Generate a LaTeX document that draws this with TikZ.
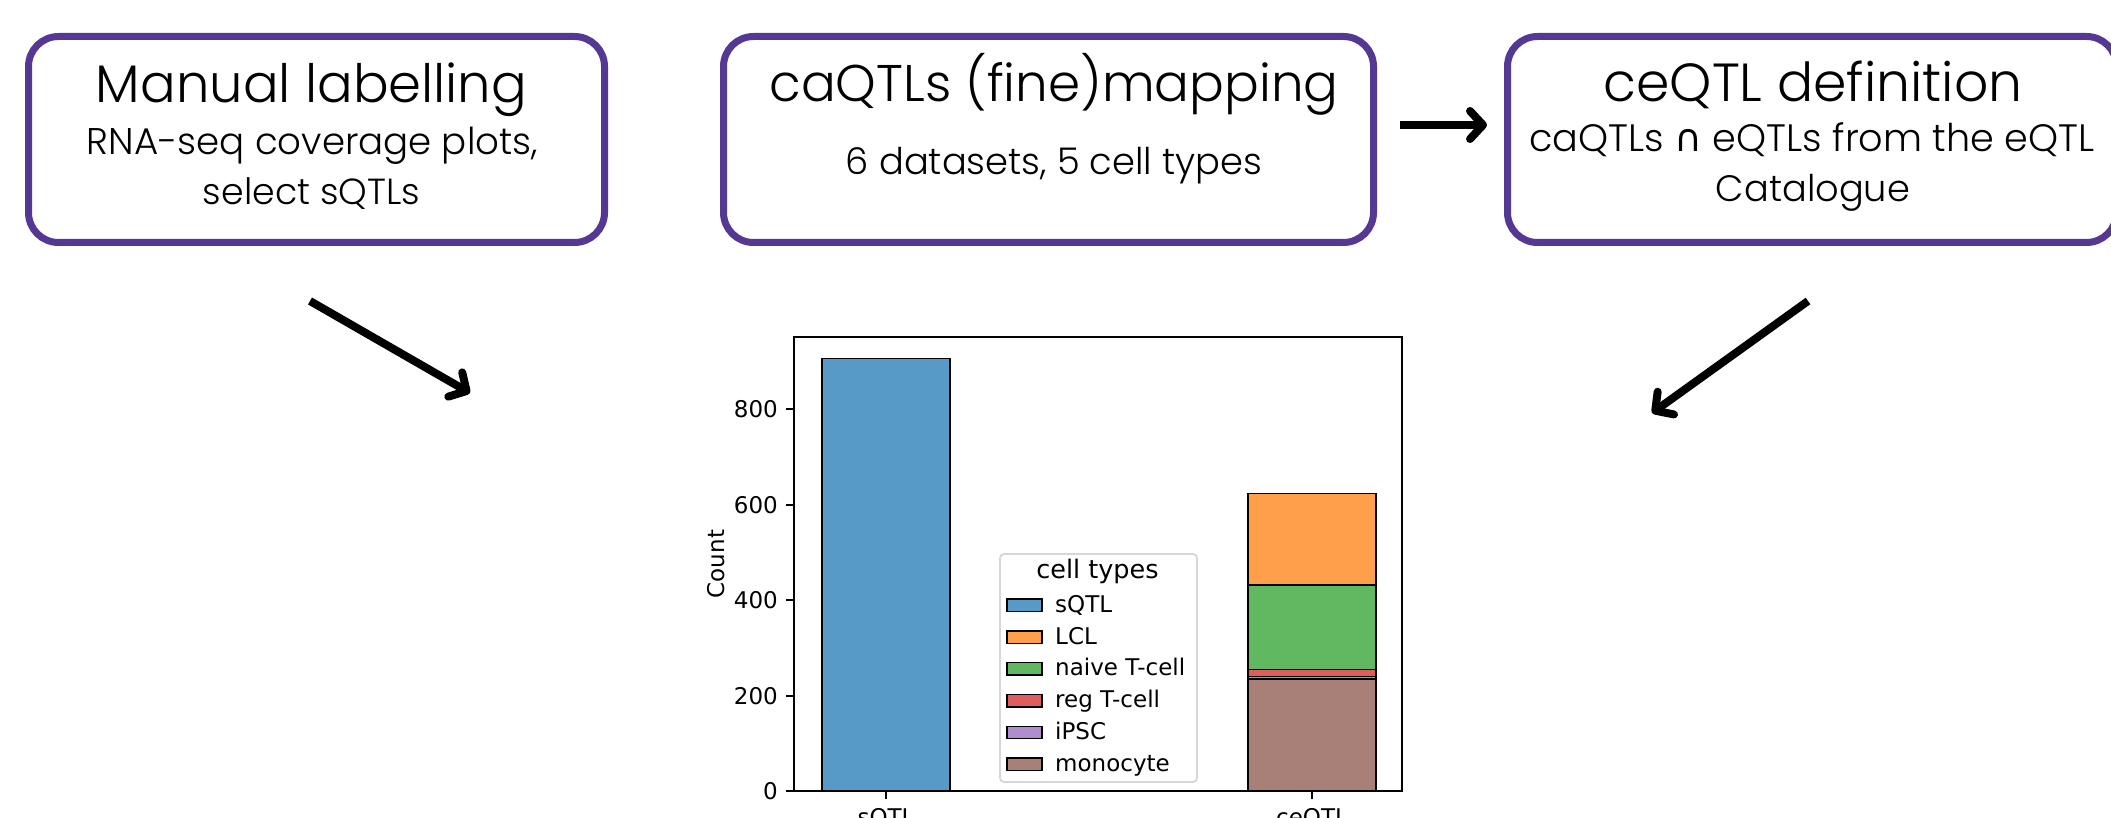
\documentclass[tikz,border=0pt]{standalone}
\usepackage{fontspec}
\usepackage{graphicx}
\setmainfont{Poppins}[UprightFont={* Light}]
\newfontfamily\plotfont{DejaVu Sans}
\newfontfamily\symfont{DejaVu Sans}
\usetikzlibrary{arrows.meta}

\definecolor{boxpurple}{RGB}{84,56,148}
\definecolor{cSqtl}{RGB}{87,153,199}
\definecolor{cLcl}{RGB}{255,159,74}
\definecolor{cNaive}{RGB}{97,184,97}
\definecolor{cReg}{RGB}{224,93,94}
\definecolor{cIpsc}{RGB}{175,141,206}
\definecolor{cMono}{RGB}{169,128,120}
\definecolor{legline}{RGB}{214,214,214}

% scale one line of text to a given width
\newcommand{\fitto}[2]{\resizebox{#1}{!}{#2}}

\begin{document}
\begin{tikzpicture}[x=1pt,y=-1pt,
  stagebox/.style={draw=boxpurple, line width=7pt, rounded corners=30pt,
    minimum height=206pt, inner sep=0pt},
  txt/.style={inner sep=0pt, anchor=base},
  arr/.style={line width=8pt, -{Straight Barb[length=13pt,width=28pt,round]}},
  bar/.style={draw=black, line width=1.5pt},
  spine/.style={draw=black, line width=1.8pt},
  plottxt/.style={inner sep=0pt, font=\plotfont\fontsize{23}{27}\selectfont},
  legtitle/.style={inner sep=0pt, font=\plotfont\fontsize{25.5}{30}\selectfont},
]
\useasboundingbox (0,0) rectangle (2111,818);
\clip (0,0) rectangle (2111,818);

% ---------- stage boxes ----------
\node[stagebox, minimum width=576pt] (b1) at (316.5,139.5) {};
\node[stagebox, minimum width=650pt] (b2) at (1048.5,139.5) {};
\node[stagebox, minimum width=609pt] (b3) at (1812,139.5) {};

\node[txt] (t1a) at (311.5,103) {\fitto{431pt}{Manual labelling}};
\node[txt] (t1b) at (312.5,155) {\fitto{451pt}{RNA-seq coverage plots,}};
\node[txt] (t1c) at (311.5,205) {\fitto{217pt}{select sQTLs}};

\node[txt] (t2a) at (1054,102) {\fitto{569pt}{caQTLs (fine)mapping}};
\node[txt] (t2b) at (1054,175) {\fitto{416pt}{6 datasets, 5 cell types}};

\node[txt] (t3a) at (1813,102) {\fitto{419pt}{ceQTL definition}};
\node[txt] (t3b) at (1812,152) {\fitto{565pt}{caQTLs {\symfont ∩} eQTLs from the eQTL}};
\node[txt] (t3c) at (1813,202) {\fitto{194pt}{Catalogue}};

% ---------- arrows ----------
\draw[arr, shorten <=22.5pt, shorten >=17pt]
  ([yshift=14.5pt]b2.east) -- ([yshift=14.5pt]b3.west);

\coordinate (la) at (310,301);
\coordinate (lb) at (470,393);
\coordinate (ra) at (1808,301);
\coordinate (rb) at (1652,413);
\draw[arr] (la) -- (lb);
\draw[arr] (ra) -- (rb);

% ---------- bar chart ----------
\filldraw[bar, fill=cSqtl] (822,791) rectangle (950,358.5);
\filldraw[bar, fill=cMono]  (1248,791)   rectangle (1376,679);
\filldraw[bar, fill=cIpsc]  (1248,679)   rectangle (1376,676.7);
\filldraw[bar, fill=cReg]   (1248,676.7) rectangle (1376,669.3);
\filldraw[bar, fill=cNaive] (1248,669.3) rectangle (1376,585);
\filldraw[bar, fill=cLcl]   (1248,585)   rectangle (1376,493.3);

% y ticks and labels
\foreach \yy/\lab in {791/0, 695.6/200, 600.2/400, 504.7/600, 409.3/800}{
  \draw[spine] (786,\yy) -- (794,\yy);
  \node[plottxt, anchor=base east] at (778,\yy+8.4) {\lab};
}
% x ticks and labels (the page edge cuts them)
\draw[spine] (886,791) -- (886,799);
\draw[spine] (1312,791) -- (1312,799);
\node[plottxt, anchor=base] (xl1) at (886,825) {sQTL};
\node[plottxt, anchor=base] (xl2) at (1312,825) {ceQTL};

\node[plottxt, rotate=90] (ylab) at (716,564) {Count};

% legend
\draw[draw=legline, fill=white, line width=1.8pt, rounded corners=4pt]
  (1000,554) rectangle (1197,782);
\node[legtitle, anchor=base] (legt) at (1097.5,578) {cell types};
\foreach \col/\name [count=\i] in {cSqtl/sQTL, cLcl/LCL, cNaive/naive T-cell,
    cReg/reg T-cell, cIpsc/iPSC, cMono/monocyte}{
  \pgfmathsetmacro{\yc}{605.3+(\i-1)*31.8}
  \filldraw[bar, fill=\col] (1007,\yc-6.2) rectangle (1042,\yc+6.2);
  \node[plottxt, anchor=base west] (leg\i) at (1055,\yc+7) {\name};
}

% axes frame
\draw[spine] (794,337) rectangle (1402,791);
\end{tikzpicture}
\end{document}
